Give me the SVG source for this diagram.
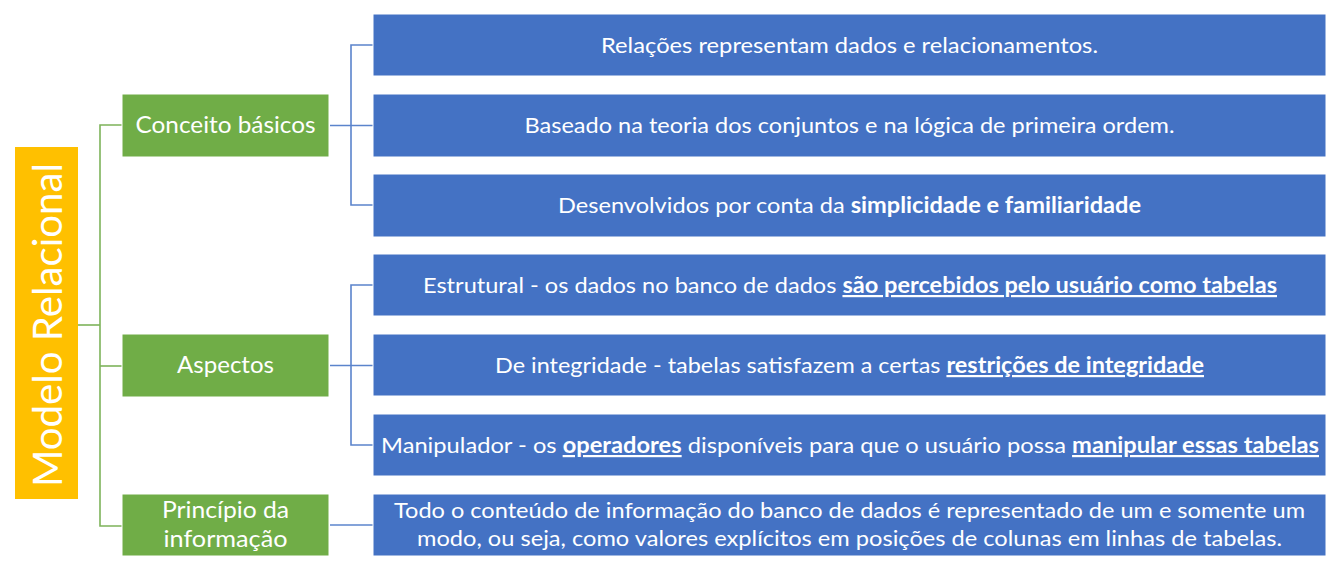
<svg xmlns="http://www.w3.org/2000/svg" width="1341" height="573" viewBox="0 0 1341 573">
<style>
.blue{fill:#4472C4;stroke:#ffffff;stroke-width:1}
.green{fill:#70AD47;stroke:#ffffff;stroke-width:1}
.orange{fill:#FFC000}
.t{font-family:Lato,"Liberation Sans",sans-serif;fill:#ffffff;text-anchor:middle}
.bt{font-size:22px}
.gt{font-size:24px}
.b{font-weight:bold}
.u{font-weight:bold;text-decoration:underline}
.cg{fill:none;stroke:#7DB35A;stroke-width:1.6}
.cb{fill:none;stroke:#5B84CC;stroke-width:1.6}
</style>
<rect width="1341" height="573" fill="#ffffff"/>
<g id="connectors">
<polyline class="cg" points="78,325 100,325"/>
<polyline class="cg" points="122,125 100,125 100,526 122,526"/>
<polyline class="cg" points="100,366 122,366"/>
<polyline class="cb" points="330,125.5 373,125.5"/>
<polyline class="cb" points="373,45 351,45 351,205 373,205"/>
<polyline class="cb" points="330,365.5 373,365.5"/>
<polyline class="cb" points="373,285 351,285 351,445 373,445"/>
<polyline class="cb" points="330,525 373,525"/>
</g>
<g id="root">
<rect class="orange" x="15" y="147" width="63" height="352"/>
<text class="t" transform="translate(62,325) rotate(-90)" font-size="41" textLength="324" lengthAdjust="spacingAndGlyphs">Modelo Relacional</text>
</g>
<g id="conceito">
<rect class="green" x="122" y="94" width="207" height="63"/>
<text class="t gt" x="225.5" y="133" textLength="180" lengthAdjust="spacingAndGlyphs">Conceito básicos</text>
</g>
<g id="aspectos">
<rect class="green" x="122" y="334" width="207" height="63"/>
<text class="t gt" x="225.5" y="373" textLength="97" lengthAdjust="spacingAndGlyphs">Aspectos</text>
</g>
<g id="principio">
<rect class="green" x="122" y="494" width="207" height="62"/>
<text class="t gt" x="225.5" y="518" textLength="127" lengthAdjust="spacingAndGlyphs">Princípio da</text>
<text class="t gt" x="225.5" y="547" textLength="124" lengthAdjust="spacingAndGlyphs">informação</text>
</g>
<g id="b1">
<rect class="blue" x="373" y="14" width="953" height="62"/>
<text class="t bt" x="849.5" y="53" textLength="497" lengthAdjust="spacingAndGlyphs">Relações representam dados e relacionamentos.</text>
</g>
<g id="b2">
<rect class="blue" x="373" y="94" width="953" height="63"/>
<text class="t bt" x="849.5" y="133" textLength="650" lengthAdjust="spacingAndGlyphs">Baseado na teoria dos conjuntos e na lógica de primeira ordem.</text>
</g>
<g id="b3">
<rect class="blue" x="373" y="174" width="953" height="63"/>
<text class="t bt" x="849.5" y="213" textLength="583" lengthAdjust="spacingAndGlyphs">Desenvolvidos por conta da <tspan class="b">simplicidade e familiaridade</tspan></text>
</g>
<g id="b4">
<rect class="blue" x="373" y="254" width="953" height="62"/>
<text class="t bt" x="850" y="293" textLength="854" lengthAdjust="spacingAndGlyphs">Estrutural - os dados no banco de dados <tspan class="u">são percebidos pelo usuário como tabelas</tspan></text>
</g>
<g id="b5">
<rect class="blue" x="373" y="334" width="953" height="62"/>
<text class="t bt" x="849.5" y="373" textLength="709" lengthAdjust="spacingAndGlyphs">De integridade - tabelas satisfazem a certas <tspan class="u">restrições de integridade</tspan></text>
</g>
<g id="b6">
<rect class="blue" x="373" y="414" width="953" height="62"/>
<text class="t bt" x="850" y="453" textLength="938" lengthAdjust="spacingAndGlyphs">Manipulador - os <tspan class="u">operadores</tspan> disponíveis para que o usuário possa <tspan class="u">manipular essas tabelas</tspan></text>
</g>
<g id="b7">
<rect class="blue" x="373" y="494" width="953" height="62"/>
<text class="t bt" x="849.5" y="518" textLength="911" lengthAdjust="spacingAndGlyphs">Todo o conteúdo de informação do banco de dados é representado de um e somente um</text>
<text class="t bt" x="849.5" y="546" textLength="865" lengthAdjust="spacingAndGlyphs">modo, ou seja, como valores explícitos em posições de colunas em linhas de tabelas.</text>
</g>
</svg>
